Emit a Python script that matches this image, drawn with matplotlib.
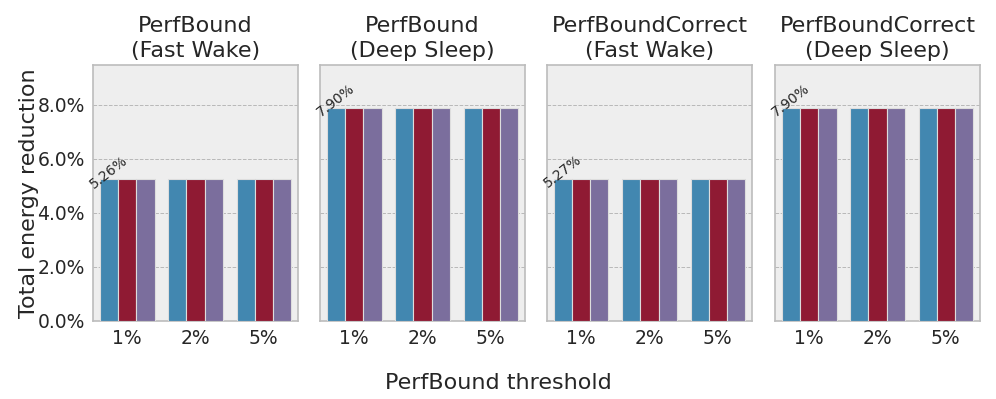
import matplotlib
matplotlib.use("Agg")

import numpy as np
import matplotlib.pyplot as plt
from matplotlib.ticker import FuncFormatter

# ================================
# data
# ================================
thresholds = ["1%", "2%", "5%"]
panel_titles = [
    "PerfBound\n(Fast Wake)",
    "PerfBound\n(Deep Sleep)",
    "PerfBoundCorrect\n(Fast Wake)",
    "PerfBoundCorrect\n(Deep Sleep)",
]
# one row per hue series, one column per threshold (values in %)
fast_wake = [[5.26, 5.26, 5.26], [5.26, 5.26, 5.26], [5.26, 5.26, 5.26]]
deep_sleep = [[7.90, 7.90, 7.90], [7.90, 7.90, 7.90], [7.90, 7.90, 7.90]]
correct_fast_wake = [[5.27, 5.27, 5.27], [5.27, 5.27, 5.27], [5.27, 5.27, 5.27]]
correct_deep_sleep = [[7.90, 7.90, 7.90], [7.90, 7.90, 7.90], [7.90, 7.90, 7.90]]
panels = [fast_wake, deep_sleep, correct_fast_wake, correct_deep_sleep]

colors = ["#4287b0", "#8f1a33", "#7b6e9d"]
text_color = "#262626"

fig = plt.figure(figsize=(9.96, 3.99), dpi=100)
W, H = 996, 399
lefts = [93, 320, 547, 775]
ymax = 1.2 * max(max(max(r) for r in p) for p in panels)

x = np.arange(len(thresholds))
bw = 0.8 / 3

for i, (vals, title) in enumerate(zip(panels, panel_titles)):
    ax = fig.add_axes([lefts[i] / W, (H - 321) / H, 205 / W, (321 - 65) / H])
    ax.set_facecolor("#eeeeee")
    for j, series in enumerate(vals):
        ax.bar(x + (j - 1) * bw, series, width=bw, color=colors[j],
               edgecolor="#dddddd", linewidth=0.8, zorder=3)
    # label only the first bar
    first = vals[0][0]
    ax.annotate(f"{first:.2f}%", (x[0] - bw, first), xytext=(0, 5),
                textcoords="offset points", ha="center", va="center",
                rotation=38, fontsize=10, color=text_color, zorder=4)
    ax.set_xlim(-0.5, 2.5)
    ax.set_ylim(0, ymax)
    ax.set_yticks([0, 2, 4, 6, 8])
    ax.yaxis.set_major_formatter(FuncFormatter(lambda v, p: f"{v:.1f}%"))
    ax.set_xticks(x)
    ax.set_xticklabels(thresholds)
    ax.tick_params(length=0, labelsize=13.5, colors=text_color, pad=6)
    ax.grid(axis="y", linestyle="--", color="#b8b8b8", linewidth=0.7, zorder=0)
    for s in ax.spines.values():
        s.set_color("#bcbcbc")
        s.set_linewidth(1.2)
    ax.set_title(title, fontsize=16, color=text_color, pad=6, linespacing=1.3)
    if i == 0:
        ax.set_ylabel("Total energy reduction", fontsize=16, color=text_color,
                      labelpad=-1)
    else:
        ax.set_yticklabels([])

fig.text(0.5, 1 - 383 / H, "PerfBound threshold", ha="center", va="center",
         fontsize=16, color=text_color)

plt.savefig("out.png", dpi=100)
plt.close()
